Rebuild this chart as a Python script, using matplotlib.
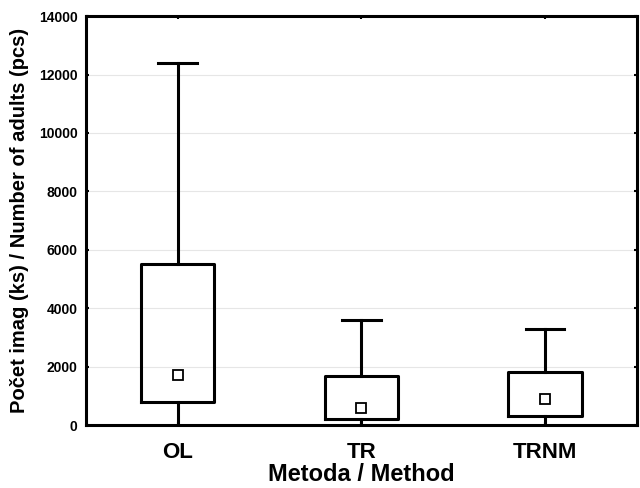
import matplotlib
matplotlib.use("Agg")
import matplotlib.pyplot as plt

groups = ["OL", "TR", "TRNM"]
whisk_lo = [0, 0, 0]
q1 = [800, 200, 300]
median = [1700, 600, 900]
q3 = [5500, 1680, 1800]
whisk_hi = [12400, 3600, 3300]

plt.rcParams['font.family'] = ['Liberation Sans', 'DejaVu Sans']
plt.rcParams['font.weight'] = 'bold'

stats = []
for i in range(len(groups)):
    stats.append(dict(label=groups[i], whislo=whisk_lo[i], q1=q1[i], med=median[i],
                      q3=q3[i], whishi=whisk_hi[i], mean=median[i], fliers=[]))

fig = plt.figure(figsize=(6.4, 4.88), dpi=100)
ax = fig.add_axes([0.134, 0.129, 0.861, 0.838])

lw = 2.2
parts = ax.bxp(stats, positions=[1, 2, 3], widths=0.4, showmeans=True, patch_artist=False,
               boxprops=dict(color='black', linewidth=lw),
               whiskerprops=dict(color='black', linewidth=lw),
               capprops=dict(color='black', linewidth=lw),
               medianprops=dict(linewidth=0),
               meanprops=dict(marker='s', markerfacecolor='white', markeredgecolor='black',
                              markersize=7, markeredgewidth=1.3),
               capwidths=0.21, zorder=3)
# lower caps sit on the axis at 0, hide them
for cap in parts['caps'][0::2]:
    cap.set_visible(False)

ax.set_xlim(0.5, 3.5)
ax.set_ylim(0, 14000)
ax.set_yticks(range(0, 14001, 2000))
ax.yaxis.grid(True, color='#e6e6e6', linewidth=0.8)
ax.set_axisbelow(True)

for s in ax.spines.values():
    s.set_linewidth(2.2)
ax.tick_params(direction='in', length=2, width=1.5, top=True, right=True)
ax.tick_params(axis='y', labelsize=10, pad=6)
ax.tick_params(axis='x', labelsize=16, pad=12)
for t in ax.get_yticklabels() + ax.get_xticklabels():
    t.set_fontweight('bold')

ax.set_xlabel("Metoda / Method", fontsize=17, fontweight='bold', labelpad=0)
ax.set_ylabel("Počet imag (ks) / Number of adults (pcs)", fontsize=14.5, fontweight='bold', labelpad=7)

fig.savefig("out.png", dpi=100)
